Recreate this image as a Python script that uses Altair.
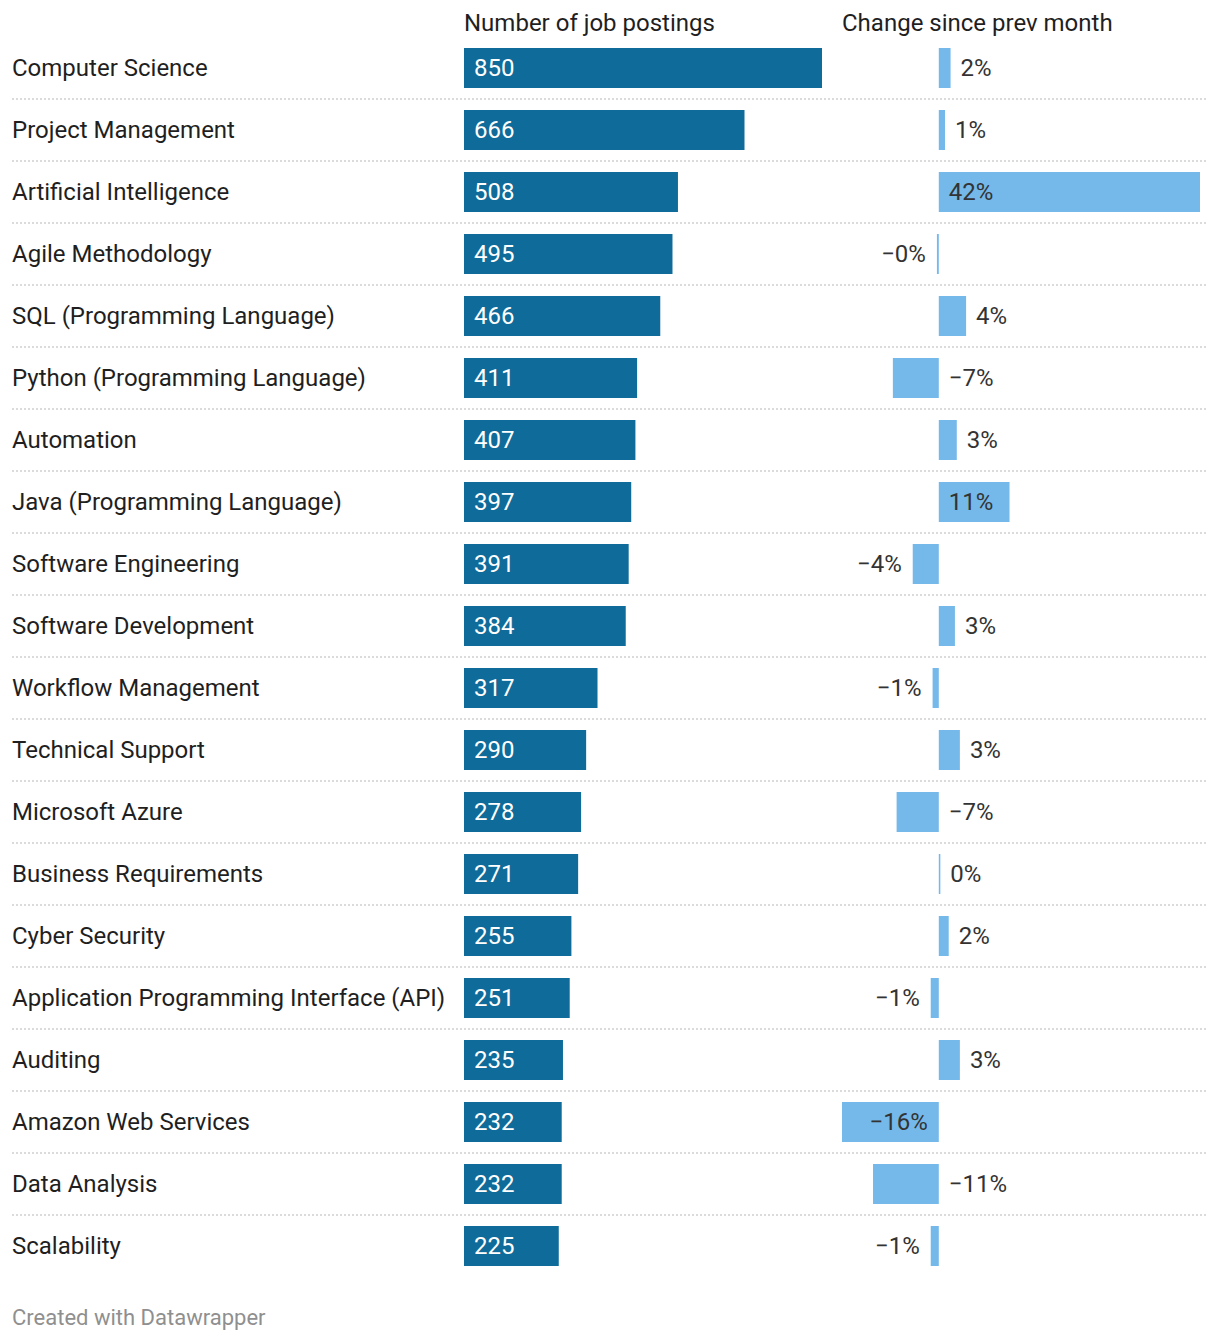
import altair as alt
import pandas as pd

categories = [
    "Computer Science", "Project Management", "Artificial Intelligence", "Agile Methodology",
    "SQL (Programming Language)", "Python (Programming Language)", "Automation",
    "Java (Programming Language)", "Software Engineering", "Software Development",
    "Workflow Management", "Technical Support", "Microsoft Azure", "Business Requirements",
    "Cyber Security", "Application Programming Interface (API)", "Auditing",
    "Amazon Web Services", "Data Analysis", "Scalability",
]
jobs = [850, 666, 508, 495, 466, 411, 407, 397, 391, 384, 317, 290, 278, 271, 255, 251, 235, 232, 232, 225]
changes = [1.9, 1.0, 42.1, -0.3, 4.4, -7.4, 2.9, 11.4, -4.2, 2.6, -1.0, 3.4, -6.8, 0.25, 1.6, -1.3, 3.4, -15.6, -10.6, -1.3]
headers = ["Number of job postings", "Change since prev month"]
footer = "Created with Datawrapper"

FONT = "Roboto"
FS = 24
DARK = "#0f6b99"
LIGHT = "#74b9ea"
TXT = "#1f1f1f"

df = pd.DataFrame({"cat": categories, "jobs": jobs, "change": changes, "idx": range(len(categories))})
df["zero"] = 0

W, H = 1204, 1326
yscale = alt.Scale(domain=categories, range=[29, 29 + 62 * len(categories)], paddingInner=0, paddingOuter=0)
jobscale = alt.Scale(domain=[0, max(jobs)], range=[456, 814], nice=False, zero=True)
chscale = alt.Scale(domain=[min(changes), max(changes)], range=[834, 1192], nice=False, zero=False)

base = alt.Chart(df)
Y = alt.Y("cat:N", scale=yscale, axis=None, sort=None)

seps = base.transform_filter("datum.idx > 0").mark_rule(
    color="#cfcfcf", strokeWidth=1.5, strokeDash=[2, 2]
).encode(
    y=alt.Y("cat:N", scale=yscale, axis=None, sort=None, bandPosition=0),
    x=alt.value(4), x2=alt.value(1200),
)

labels = base.mark_text(align="left", baseline="middle", dy=1, font=FONT, fontSize=FS, color=TXT).encode(
    y=Y, x=alt.value(4), text="cat:N"
)

jobbars = base.mark_bar(size=40, color=DARK).encode(
    y=Y,
    x=alt.X("zero:Q", scale=jobscale, axis=None),
    x2="jobs:Q",
)
jobtext = base.mark_text(align="left", baseline="middle", dx=10, dy=1, font=FONT, fontSize=FS, color="white").encode(
    y=Y,
    x=alt.X("zero:Q", scale=jobscale, axis=None),
    text=alt.Text("jobs:Q", format="d"),
)

chbars = base.mark_bar(size=40, color=LIGHT).encode(
    y=Y,
    x=alt.X("zero:Q", scale=chscale, axis=None),
    x2="change:Q",
)
# label placement: inside wide bars, otherwise outside; negative labels that do not
# fit to the left of the bar go to the right of the zero line
chbase = base.transform_calculate(
    inside="abs(datum.change) > 11",
    lab="(datum.change < 0 ? '\u2212' : '') + format(abs(datum.change), '.0f') + '%'",
).transform_calculate(
    side="datum.inside ? (datum.change < 0 ? 'R' : 'L') : (datum.change >= 0 ? 'L' : (datum.change < -5 ? 'L' : 'R'))",
    lx="datum.inside ? 0 : (datum.change >= 0 ? datum.change : (datum.change < -5 ? 0 : datum.change))",
)
chleft = chbase.transform_filter("datum.side == 'L'").mark_text(
    align="left", baseline="middle", dx=10, dy=1, font=FONT, fontSize=FS, color="#333333"
).encode(y=Y, x=alt.X("lx:Q", scale=chscale, axis=None), text="lab:N")
chright = chbase.transform_filter("datum.side == 'R'").mark_text(
    align="right", baseline="middle", dx=-11, dy=1, font=FONT, fontSize=FS, color="#333333"
).encode(y=Y, x=alt.X("lx:Q", scale=chscale, axis=None), text="lab:N")

hdr_df = pd.DataFrame({"h": headers, "pos": [0, min(changes)]})
hdr1 = alt.Chart(hdr_df).transform_filter(alt.datum.h == headers[0]).mark_text(
    align="left", baseline="middle", font=FONT, fontSize=FS, color=TXT
).encode(x=alt.X("pos:Q", scale=jobscale, axis=None), y=alt.value(16), text="h:N")
hdr2 = alt.Chart(hdr_df).transform_filter(alt.datum.h == headers[1]).mark_text(
    align="left", baseline="middle", font=FONT, fontSize=FS, color=TXT
).encode(x=alt.X("pos:Q", scale=chscale, axis=None), y=alt.value(16), text="h:N")

foot = alt.Chart(pd.DataFrame({"t": [footer]})).mark_text(
    align="left", baseline="middle", font=FONT, fontSize=22, color="#8f8f8f"
).encode(x=alt.value(4), y=alt.value(1310), text="t:N")

chart = alt.layer(
    seps, labels, jobbars, jobtext, chbars, chleft, chright, hdr1, hdr2, foot
).resolve_scale(x="independent").properties(
    width=W, height=H, padding=0, background="white",
    autosize=alt.AutoSizeParams(type="none"),
).configure_view(strokeWidth=0, stroke="transparent")

chart.save("out.html", embed_options={"renderer": "svg", "actions": False})
